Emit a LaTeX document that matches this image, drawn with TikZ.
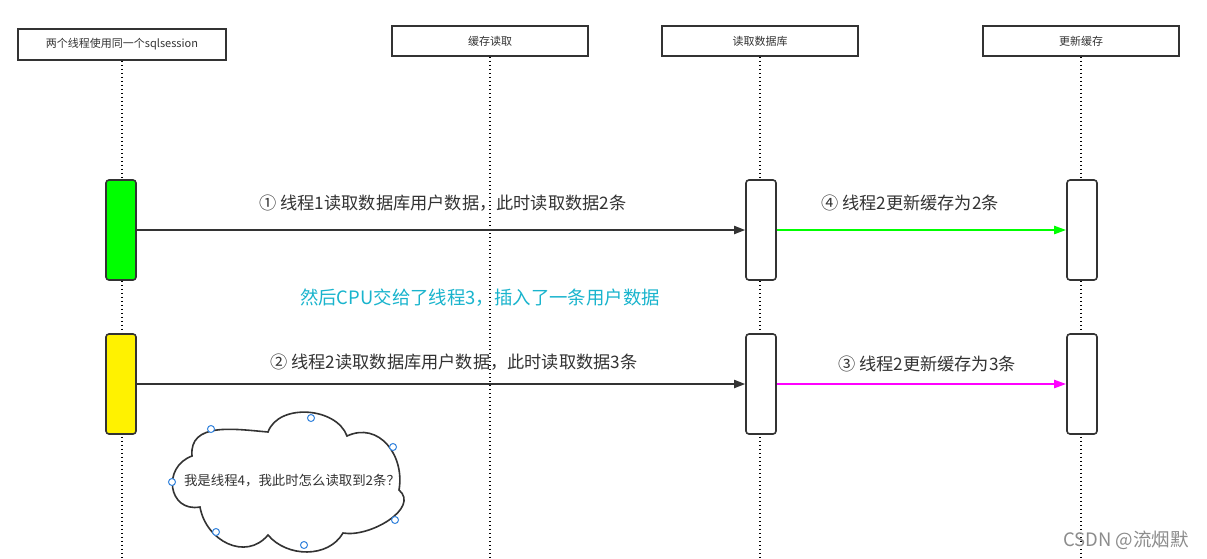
\documentclass[tikz,border=0pt]{standalone}
\usepackage{fontspec}
\setmainfont{Noto Sans CJK SC}
\usetikzlibrary{arrows.meta}
\definecolor{ink}{HTML}{333333}
\definecolor{cyantxt}{RGB}{25,180,205}
\definecolor{handle}{RGB}{50,130,220}
\definecolor{greenln}{HTML}{00FF00}
\definecolor{magln}{HTML}{FF00FF}
\begin{document}
\begin{tikzpicture}[x=1pt,y=1pt,
  head/.style={draw=ink, line width=1.6pt, fill=white, minimum width=196pt, minimum height=30pt,
    font=\fontsize{11}{13}\selectfont, text=ink, inner sep=0pt},
  act/.style={draw=ink, line width=1.6pt, rounded corners=3pt, minimum width=30pt,
    minimum height=100pt, inner sep=0pt},
  life/.style={line width=1.5pt, dash pattern=on 1.5pt off 2.5pt, black},
  msg/.style={draw=ink, line width=1.8pt, -{Triangle[length=11pt,width=8pt]}},
  lbl/.style={font=\fontsize{17.2}{19}\selectfont, text=ink, inner sep=0pt},
  handlept/.style={circle, draw=handle, fill=white, line width=1pt, inner sep=0pt, minimum size=7pt}]
\useasboundingbox (0,0) rectangle (1207,-558);
\fill[white] (0,0) rectangle (1207,-558);

% headers
\node[head, minimum width=208pt, minimum height=31pt] (h1) at (122,-44.5) {两个线程使用同一个sqlsession};
\node[head] (h2) at (490,-41) {缓存读取};
\node[head] (h3) at (760,-41) {读取数据库};
\node[head] (h4) at (1081,-41) {更新缓存};

% lifeline ends
\coordinate (e1) at (122,-558);
\coordinate (e2) at (490,-558);
\coordinate (e3) at (760,-558);
\coordinate (e4) at (1081,-558);
\foreach \i in {1,2,3,4} \draw[life] (h\i.south) -- (e\i);

% activation boxes
\node[act, fill=greenln] (a1) at (121,-230) {};
\node[act, fill=yellow] (a2) at (121,-384) {};
\node[act, fill=white] (d1) at (761,-230) {};
\node[act, fill=white] (d2) at (761,-384) {};
\node[act, fill=white] (u1) at (1082,-230) {};
\node[act, fill=white] (u2) at (1082,-384) {};

% messages
\draw[msg] (a1.east) -- (d1.west);
\draw[msg] (a2.east) -- (d2.west);
\draw[msg, draw=greenln, line width=2.2pt, -{Triangle[length=12pt,width=8pt,fill=greenln]}] (d1.east) -- (u1.west);
\draw[msg, draw=magln, line width=2.2pt, -{Triangle[length=12pt,width=8pt,fill=magln]}] (d2.east) -- (u2.west);

% labels
\node[lbl] (l1) at (443,-203) {① 线程1读取数据库用户数据，此时读取数据2条};
\node[lbl] (l4) at (910,-203) {④ 线程2更新缓存为2条};
\node[lbl] (l2) at (454,-362) {② 线程2读取数据库用户数据，此时读取数据3条};
\node[lbl] (l3) at (927,-364) {③ 线程2更新缓存为3条};
\node[lbl, text=cyantxt, font=\fontsize{18.4}{21}\selectfont] (mid) at (480,-298) {然后CPU交给了线程3，插入了一条用户数据};

% cloud
\draw[ink, line width=1.6pt, fill=white]
  (192,-456) to[out=95,in=175,looseness=1.1] (268,-432)
  to[out=70,in=110,looseness=1.0] (347,-436)
  to[out=25,in=80,looseness=1.2] (399,-490)
  to[out=-40,in=-10,looseness=1.0] (343,-533)
  to[out=-120,in=-50,looseness=1.0] (268,-535)
  to[out=-130,in=-80,looseness=1.2] (200,-507)
  to[out=190,in=200,looseness=1.6] cycle;
\node[font=\fontsize{13.4}{16}\selectfont, text=ink, inner sep=0pt] (ct) at (292,-481) {我是线程4，我此时怎么读取到2条？};
\node[handlept] (p1) at (211,-429) {};
\node[handlept] (p2) at (311,-418) {};
\node[handlept] (p3) at (393,-447) {};
\node[handlept] (p4) at (395,-520) {};
\node[handlept] (p5) at (304,-545) {};
\node[handlept] (p6) at (216,-532) {};
\node[handlept] (p7) at (172,-482) {};

% watermark
\node[font=\fontsize{18.5}{20}\selectfont, text=black!45, inner sep=0pt] (wm) at (1126,-540) {CSDN @流烟默};
\end{tikzpicture}
\end{document}
